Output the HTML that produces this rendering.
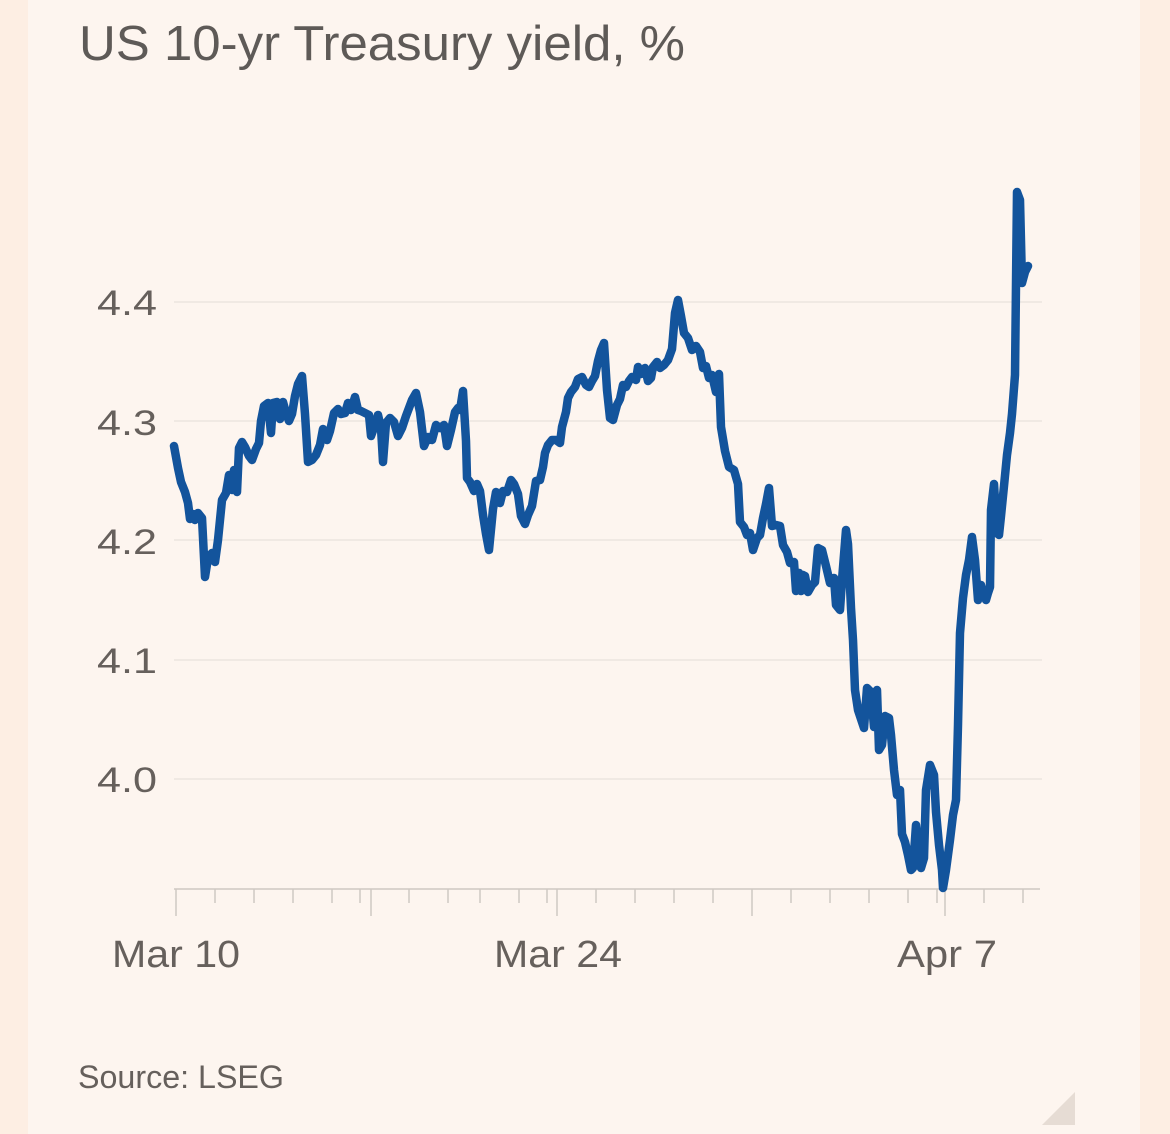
<!DOCTYPE html>
<html><head><meta charset="utf-8"><style>
html,body{margin:0;padding:0;background:#fdeee3;}
svg{display:block;font-family:"Liberation Sans",sans-serif;}
</style></head><body>
<svg width="1170" height="1134" viewBox="0 0 1170 1134">
<rect x="0" y="0" width="1170" height="1134" fill="#fdeee3"/>
<rect x="28" y="0" width="1112" height="1134" fill="#fdf5ef"/>
<text x="79" y="60" font-size="49" fill="#5e5a57" textLength="606" lengthAdjust="spacingAndGlyphs">US 10-yr Treasury yield, %</text>
<g stroke="#ece5df" stroke-width="1.5">
<line x1="174" y1="302" x2="1042" y2="302"/>
<line x1="174" y1="421" x2="1042" y2="421"/>
<line x1="174" y1="540" x2="1042" y2="540"/>
<line x1="174" y1="660" x2="1042" y2="660"/>
<line x1="174" y1="779" x2="1042" y2="779"/>
</g>
<g font-size="35" fill="#66605c">
<text x="97" y="315" textLength="60" lengthAdjust="spacingAndGlyphs">4.4</text>
<text x="97" y="435" textLength="60" lengthAdjust="spacingAndGlyphs">4.3</text>
<text x="97" y="554" textLength="60" lengthAdjust="spacingAndGlyphs">4.2</text>
<text x="97" y="673" textLength="60" lengthAdjust="spacingAndGlyphs">4.1</text>
<text x="97" y="792" textLength="60" lengthAdjust="spacingAndGlyphs">4.0</text>
</g>
<g stroke="#cfc8c2" stroke-width="1.5">
<line x1="174" y1="889" x2="1040" y2="889"/>
<line x1="176" y1="889" x2="176" y2="916"/>
<line x1="371" y1="889" x2="371" y2="916"/>
<line x1="557" y1="889" x2="557" y2="916"/>
<line x1="752" y1="889" x2="752" y2="916"/>
<line x1="945" y1="889" x2="945" y2="916"/>
<line x1="215" y1="889" x2="215" y2="903"/><line x1="254" y1="889" x2="254" y2="903"/><line x1="293" y1="889" x2="293" y2="903"/><line x1="332" y1="889" x2="332" y2="903"/><line x1="360" y1="889" x2="360" y2="903"/>
<line x1="409" y1="889" x2="409" y2="903"/><line x1="448" y1="889" x2="448" y2="903"/><line x1="480" y1="889" x2="480" y2="903"/><line x1="519" y1="889" x2="519" y2="903"/><line x1="547" y1="889" x2="547" y2="903"/>
<line x1="596" y1="889" x2="596" y2="903"/><line x1="635" y1="889" x2="635" y2="903"/><line x1="674" y1="889" x2="674" y2="903"/><line x1="713" y1="889" x2="713" y2="903"/>
<line x1="791" y1="889" x2="791" y2="903"/><line x1="830" y1="889" x2="830" y2="903"/><line x1="869" y1="889" x2="869" y2="903"/><line x1="908" y1="889" x2="908" y2="903"/><line x1="937" y1="889" x2="937" y2="903"/>
<line x1="984" y1="889" x2="984" y2="903"/><line x1="1023" y1="889" x2="1023" y2="903"/>
</g>
<g font-size="38" fill="#66605c">
<text x="112" y="967" textLength="128" lengthAdjust="spacingAndGlyphs">Mar 10</text>
<text x="494" y="967" textLength="128" lengthAdjust="spacingAndGlyphs">Mar 24</text>
<text x="897" y="967" textLength="100" lengthAdjust="spacingAndGlyphs">Apr 7</text>
</g>
<text x="78" y="1088" font-size="32" fill="#66605c" textLength="206" lengthAdjust="spacingAndGlyphs">Source: LSEG</text>
<polygon points="1042,1125 1075,1125 1075,1092" fill="#e6dcd4"/>
<polyline fill="none" stroke="#13549c" stroke-width="8.5" stroke-linejoin="round" stroke-linecap="round" points="174,446 178,468 181,482 185,492 188,503 190,519 193,514 195,520 198,513 202,518 205,577 208,558 212,553 215,562 218,540 220,520 222,500 226,493 229,475 232,490 234,470 237,492 239,448 242,442 245,447 249,456 252,460 256,449 259,443 261,421 264,406 268,403 271,433 273,403 277,402 280,419 283,402 286,413 289,421 292,414 295,396 298,384 302,376 305,414 308,462 312,460 316,455 320,445 323,429 327,440 330,431 334,413 338,409 341,414 345,413 348,403 351,410 355,397 358,410 361,411 365,413 369,415 371,436 375,425 378,415 381,428 383,462 386,423 390,418 394,422 398,436 402,428 406,416 412,400 416,393 420,412 424,446 428,437 432,440 436,425 440,428 444,425 447,446 451,430 455,412 458,408 460,410 463,391 466,441 467,478 470,482 474,491 477,484 480,491 483,515 486,534 489,550 493,509 496,492 500,503 503,491 507,492 511,480 514,484 518,494 521,516 525,524 528,515 532,506 536,481 540,480 543,467 545,453 548,445 552,440 556,440 560,443 562,427 566,412 568,398 571,392 575,387 578,379 582,377 586,385 589,387 592,381 595,376 598,361 601,350 604,343 607,390 610,418 613,420 617,405 620,399 623,385 626,387 629,381 632,377 636,380 638,367 641,374 645,368 648,381 651,378 653,367 657,362 660,368 664,365 668,360 672,349 675,313 678,300 681,316 684,333 688,338 692,350 696,346 700,352 703,368 706,366 709,378 712,375 716,392 719,374 721,427 725,451 729,467 734,470 738,484 740,522 744,527 747,535 750,533 753,550 757,538 760,535 763,518 766,504 769,488 772,526 776,525 780,526 783,545 787,552 790,563 794,562 796,591 799,573 801,591 803,575 805,576 808,592 812,585 815,582 818,548 822,550 826,566 830,583 834,578 836,605 840,610 842,580 846,530 848,544 851,608 853,640 855,690 858,710 862,722 864,728 867,688 871,692 874,727 877,690 879,750 882,745 885,716 889,718 891,735 894,770 897,795 900,790 902,834 905,842 908,855 911,870 913,868 916,825 918,843 921,868 924,858 926,790 930,765 934,775 936,812 939,845 942,870 943,888 946,870 950,840 953,815 956,800 958,725 960,633 963,598 966,575 969,560 972,537 975,560 978,600 981,585 983,592 986,600 988,593 990,587 991,510 994,484 997,533 999,535 1001,516 1004,486 1007,455 1010,433 1012,414 1015,375 1017,192 1020,200 1022,283 1025,272 1028,266"/>
</svg>
</body></html>
